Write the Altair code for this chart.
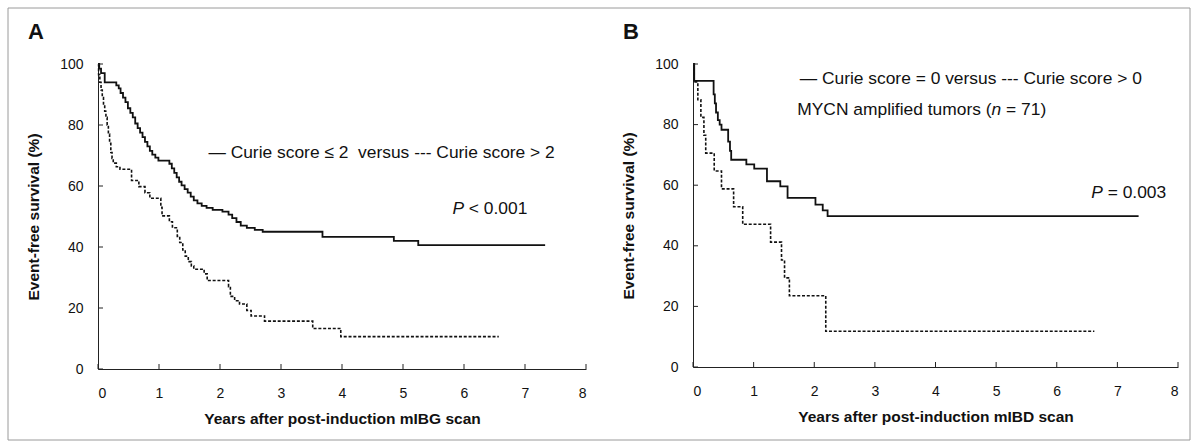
import altair as alt
import pandas as pd

# ---------------- data ----------------
# Panel A: Curie score <= 2 (solid) vs > 2 (dashed)
a_solid_t = [0, 0.02, 0.05, 0.11, 0.30, 0.34, 0.37, 0.41, 0.45, 0.49,
             0.53, 0.57, 0.61, 0.65, 0.69, 0.73, 0.77, 0.81, 0.85, 0.89,
             0.94, 0.99, 1.17, 1.21, 1.25, 1.29, 1.33, 1.37, 1.42, 1.47,
             1.52, 1.57, 1.63, 1.70, 1.78, 1.88, 2.04, 2.14, 2.20, 2.27,
             2.34, 2.44, 2.57, 2.70, 3.68, 4.85, 5.25, 7.33]
a_solid_s = [100, 98.5, 97, 94, 93, 92, 90.5, 89, 87.5, 85.5,
             84, 82.5, 80.5, 79, 77.5, 76, 74.5, 73, 71.5, 70.3,
             69.3, 68.3, 67.3, 65.8, 64.3, 62.8, 61.4, 60.2, 59, 57.8,
             56.5, 55.3, 54.3, 53.5, 52.8, 52.2, 51.6, 50.6, 49.5, 48.2,
             47.0, 46.3, 45.6, 45.0, 43.3, 42.0, 40.6, 40.6]
a_dash_t = [0, 0.01, 0.03, 0.05, 0.07, 0.09, 0.11, 0.13, 0.15, 0.17,
            0.19, 0.21, 0.23, 0.25, 0.30, 0.36, 0.55, 0.67, 0.77, 0.85,
            1.03, 1.05, 1.17, 1.22, 1.30, 1.34, 1.39, 1.43, 1.48, 1.53,
            1.57, 1.74, 1.79, 2.14, 2.17, 2.24, 2.32, 2.44, 2.51, 2.73,
            3.52, 3.98, 6.57]
a_dash_s = [100, 96.5, 94, 91.5, 89, 86.5, 84.5, 82.5, 80, 77,
            74, 71, 69, 67.5, 66.3, 65.5, 61.8, 59.8, 57.8, 56.0,
            53.0, 50.2, 48.3, 46.3, 43.5, 41.5, 39.0, 37.0, 35.2, 33.8,
            32.7, 31.2, 29.0, 27.0, 23.8, 22.4, 21.3, 19.2, 17.4, 15.7,
            13.3, 10.6, 10.6]

# Panel B: Curie score = 0 (solid) vs > 0 (dashed), MYCN amplified
b_solid_t = [0, 0.02, 0.34, 0.36, 0.38, 0.41, 0.44, 0.47, 0.58, 0.61,
             0.63, 0.88, 1.01, 1.22, 1.44, 1.56, 2.02, 2.14, 2.22, 7.35]
b_solid_s = [100, 94.4, 90, 87, 84, 81.5, 80, 78.3, 74.4, 71.3,
             68.4, 66.9, 65.5, 61.3, 59.6, 55.8, 53.6, 51.7, 49.8, 49.8]
b_dash_t = [0, 0.02, 0.08, 0.13, 0.18, 0.21, 0.35, 0.47, 0.67, 0.82,
            1.28, 1.46, 1.51, 1.59, 2.19, 6.62]
b_dash_s = [100, 94.1, 88.2, 82.4, 76.5, 70.6, 64.7, 58.8, 52.9, 47.1,
            41.2, 35.3, 29.4, 23.5, 11.8, 11.8]

x_ticks = [0, 1, 2, 3, 4, 5, 6, 7, 8]
y_ticks = [0, 20, 40, 60, 80, 100]

y_title = "Event-free survival (%)"
a_x_title = "Years after post-induction mIBG scan"
b_x_title = "Years after post-induction mIBD scan"

a_legend = "\u2014 Curie score \u2264 2 \u00a0versus --- Curie score > 2"
b_legend = "\u2014 Curie score = 0 versus --- Curie score > 0"

# annotation anchors in data units (years, %)
a_legend_at = (1.81, 70.8)
a_p_at = (5.81, 52.5)
b_legend_at = (1.76, 95.2)
b_mycn_at = (1.72, 84.9)
b_p_at = (6.57, 57.4)

FONT = "Liberation Sans"
INK = "#111111"
ANN = 17.4


def enc_xy(x_title):
    xs = alt.Scale(domain=[0, 8], nice=False, zero=False)
    ys = alt.Scale(domain=[0, 100], nice=False)
    X = alt.X("t:Q", scale=xs, axis=alt.Axis(values=x_ticks, title=x_title))
    Y = alt.Y("s:Q", scale=ys, axis=alt.Axis(values=y_ticks, title=y_title))
    return X, Y


def text_at(pos, txt, X, Y, italic=False, dx=0):
    df = pd.DataFrame({"t": [pos[0]], "s": [pos[1]], "label": [txt]})
    return alt.Chart(df).mark_text(
        align="left", baseline="middle", font=FONT, fontSize=ANN,
        fontStyle="italic" if italic else "normal", color=INK, dx=dx
    ).encode(x=X, y=Y, text="label:N")


def panel(letter, st, ss, dt, ds, width, height, x_title, texts, frame=False):
    X, Y = enc_xy(x_title)
    solid = alt.Chart(pd.DataFrame({"t": st, "s": ss})).mark_line(
        interpolate="step-after", color=INK, strokeWidth=1.8
    ).encode(x=X, y=Y)
    dash = alt.Chart(pd.DataFrame({"t": dt, "s": ds})).mark_line(
        interpolate="step-after", color=INK, strokeWidth=1.6, strokeDash=[3, 1.8]
    ).encode(x=X, y=Y)
    xt = alt.Chart(pd.DataFrame({"t": x_ticks})).mark_rule(color="#222", strokeWidth=1).encode(
        x=X, y=alt.value(height), y2=alt.value(height - 5))
    yt = alt.Chart(pd.DataFrame({"s": y_ticks})).mark_rule(color="#222", strokeWidth=1).encode(
        y=Y, x=alt.value(0), x2=alt.value(5))
    lab = alt.Chart(pd.DataFrame({"k": [letter]})).mark_text(
        align="center", baseline="alphabetic", font=FONT, fontSize=22, fontWeight="bold", color=INK
    ).encode(x=alt.value(-62), y=alt.value(-25), text="k:N")
    layers = [solid, dash, xt, yt, lab] + [text_at(p, t, X, Y, it, dx) for (p, t, it, dx) in texts]
    if frame:
        fr = alt.Chart(pd.DataFrame({"k": [0]})).mark_rect(
            fillOpacity=0, stroke="#9a9a9a", strokeWidth=1
        ).encode(x=alt.value(-90), x2=alt.value(1092), y=alt.value(-56), y2=alt.value(376))
        layers = layers + [fr]
    return alt.layer(*layers).properties(width=width, height=height)


a_texts = [
    (a_legend_at, a_legend, False, 0),
    (a_p_at, "P", True, 0),
    (a_p_at, "< 0.001", False, 16.4),
]
b_texts = [
    (b_legend_at, b_legend, False, 0),
    (b_mycn_at, "MYCN amplified tumors (", False, 0),
    (b_mycn_at, "n", True, 194.3),
    (b_mycn_at, "= 71)", False, 208.8),
    (b_p_at, "P", True, 0),
    (b_p_at, "= 0.003", False, 16.4),
]

A = panel("A", a_solid_t, a_solid_s, a_dash_t, a_dash_s, 488, 305, a_x_title, a_texts, frame=True)
B = panel("B", b_solid_t, b_solid_s, b_dash_t, b_dash_s, 485, 303, b_x_title, b_texts)

chart = alt.hconcat(A, B, spacing=107, bounds="flush").properties(
    padding={"left": 7, "top": 7, "right": 0, "bottom": 0},
    background="white",
).configure_view(stroke=None).configure_axis(
    grid=False, ticks=False, tickSize=0,
    domainColor="#222222", domainWidth=1,
    labelFont=FONT, labelFontSize=14, labelColor=INK, labelPadding=15,
    titleFont=FONT, titleFontSize=15.5, titleFontWeight="bold", titleColor=INK,
).configure_axisX(labelPadding=17, titlePadding=11).configure_axisY(titlePadding=18)

chart.save("out.html", embed_options={"renderer": "svg", "actions": False})
